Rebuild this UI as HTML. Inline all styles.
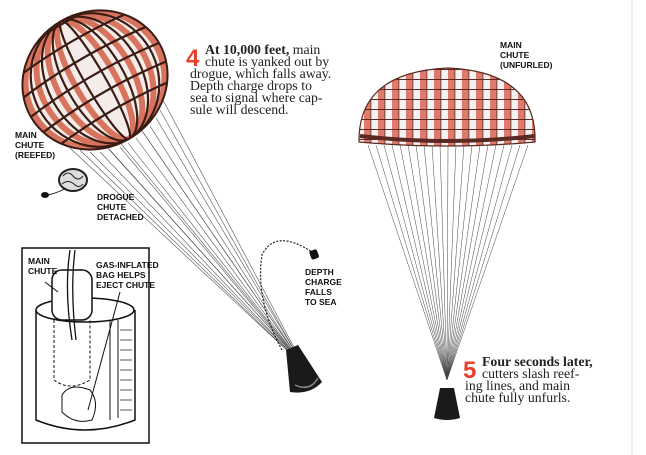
<!DOCTYPE html>
<html><head><meta charset="utf-8"><style>
html,body{margin:0;padding:0;background:#fff;}
svg{display:block}
.s{font-family:"Liberation Serif",serif;font-size:13.8px;fill:#222}
.l{font-family:"Liberation Sans",sans-serif;font-size:8.5px;font-weight:bold;fill:#111}
</style></head><body>
<svg width="646" height="455" viewBox="0 0 646 455">
<defs>
<pattern id="ck" width="14" height="10" patternUnits="userSpaceOnUse">
<rect width="14" height="10" fill="#f2f2f2"/>
<rect width="7" height="10" fill="#e07a6c"/>
<rect y="9" width="14" height="1" fill="#5a2a22"/>
<rect x="6.5" width="0.8" height="10" fill="#5a2a22"/>
</pattern>
<clipPath id="cc"><ellipse cx="95" cy="80" rx="74" ry="68" transform="rotate(-30 95 80)"/></clipPath>
</defs>
<line x1="632" y1="0" x2="632" y2="455" stroke="#f3ece8" stroke-width="2"/>
<!-- reefed chute lines -->
<g stroke="#555" stroke-width="0.6">
<line x1="70" y1="148" x2="292" y2="355"/><line x1="80" y1="150" x2="292" y2="355"/>
<line x1="90" y1="152" x2="293" y2="355"/><line x1="100" y1="152" x2="293" y2="355"/>
<line x1="110" y1="150" x2="294" y2="355"/><line x1="120" y1="147" x2="294" y2="355"/>
<line x1="128" y1="143" x2="295" y2="355"/><line x1="136" y1="138" x2="295" y2="355"/>
<line x1="143" y1="132" x2="296" y2="355"/><line x1="150" y1="126" x2="296" y2="355"/>
<line x1="156" y1="118" x2="297" y2="355"/><line x1="160" y1="110" x2="297" y2="355"/>
<line x1="163" y1="100" x2="298" y2="355"/><line x1="118" y1="140" x2="295" y2="355"/>
<line x1="105" y1="145" x2="294" y2="355"/><line x1="140" y1="128" x2="296" y2="355"/>
</g>
<g clip-path="url(#cc)">
<ellipse cx="95" cy="80" rx="74" ry="68" transform="rotate(-30 95 80)" fill="#f4ece8"/>
<g transform="rotate(-30 95 80)" fill="none">
<g stroke="#d8735d" stroke-width="6">
<ellipse cx="95" cy="80" rx="70" ry="68"/><ellipse cx="95" cy="80" rx="55" ry="68"/><ellipse cx="95" cy="80" rx="38" ry="68"/><ellipse cx="95" cy="80" rx="20" ry="68"/>
</g>
<g stroke="#3a1c14" stroke-width="2.2">
<ellipse cx="95" cy="80" rx="63" ry="68"/><ellipse cx="95" cy="80" rx="47" ry="68"/><ellipse cx="95" cy="80" rx="29" ry="68"/><ellipse cx="95" cy="80" rx="10" ry="68"/>
<path d="M20,40 Q95,30 170,40 M20,60 Q95,50 170,60 M20,80 Q95,70 170,80 M20,100 Q95,90 170,100 M20,120 Q95,110 170,120 M20,20 Q95,10 170,20"/>
</g>
</g>
</g>
<ellipse cx="95" cy="80" rx="74" ry="68" transform="rotate(-30 95 80)" fill="none" stroke="#3a1c14" stroke-width="2"/>
<!-- capsule left -->
<path d="M286,350 L298,345 L322,382 Q310,395 290,392 Z" fill="#1a1a1a"/>
<path d="M295,385 Q310,392 318,378" stroke="#888" fill="none" stroke-width="1.5"/>
<!-- depth charge -->
<path d="M282,350 Q255,300 262,255 Q275,228 312,252" fill="none" stroke="#222" stroke-width="1.2" stroke-dasharray="2,1.5"/>
<rect x="310" y="250" width="8" height="9" rx="2" fill="#111" transform="rotate(-20 314 254)"/>
<!-- text 4 -->
<text x="186" y="66" font-family="Liberation Sans,sans-serif" font-size="24" font-weight="bold" fill="#e8402a">4</text>
<text class="s" x="205" y="54"><tspan font-weight="bold">At 10,000 feet,</tspan> main</text>
<text class="s" x="205" y="66">chute is yanked out by</text>
<text class="s" x="190" y="78">drogue, which falls away.</text>
<text class="s" x="190" y="90">Depth charge drops to</text>
<text class="s" x="190" y="102">sea to signal where cap-</text>
<text class="s" x="190" y="114">sule will descend.</text>
<text class="l" x="15" y="138">MAIN</text><text class="l" x="15" y="148">CHUTE</text><text class="l" x="15" y="158">(REEFED)</text>
<!-- drogue -->
<ellipse cx="73" cy="180" rx="14" ry="11" fill="#ddd" stroke="#222" stroke-width="2"/>
<path d="M63,176 q5,-6 10,0 q5,6 10,0 M62,184 q6,-5 12,0 q5,5 9,0" stroke="#222" fill="none"/>
<path d="M48,195 Q60,192 66,188" stroke="#222" fill="none"/>
<ellipse cx="45" cy="195" rx="4" ry="3" fill="#111"/>
<text class="l" x="97" y="200">DROGUE</text><text class="l" x="97" y="210">CHUTE</text><text class="l" x="97" y="220">DETACHED</text>
<!-- inset -->
<rect x="22" y="248" width="127" height="195" fill="#fff" stroke="#111" stroke-width="1.5"/>
<path d="M36,310 L36,420 Q85,440 135,420 L135,310" fill="none" stroke="#111" stroke-width="1.5"/>
<ellipse cx="85" cy="310" rx="49" ry="12" fill="#fff" stroke="#111" stroke-width="1.5"/>
<path d="M54,320 L54,380 Q70,392 90,380 L90,320" fill="none" stroke="#111" stroke-dasharray="3,2"/>
<rect x="52" y="270" width="40" height="50" rx="10" fill="#fff" stroke="#111" stroke-width="1.5"/>
<path d="M70,250 Q64,290 72,340 M75,250 Q70,290 76,340" stroke="#111" fill="none" stroke-width="1.3"/>
<path d="M110,320 L110,420 M118,320 L118,418" stroke="#111"/>
<g stroke="#333" stroke-width="0.8">
<line x1="120" y1="330" x2="132" y2="330"/><line x1="120" y1="340" x2="132" y2="340"/><line x1="120" y1="350" x2="132" y2="350"/><line x1="120" y1="360" x2="132" y2="360"/><line x1="120" y1="370" x2="132" y2="370"/><line x1="120" y1="380" x2="132" y2="380"/><line x1="120" y1="390" x2="132" y2="390"/><line x1="120" y1="400" x2="132" y2="400"/><line x1="120" y1="410" x2="132" y2="410"/>
</g>
<path d="M62,395 Q70,382 90,390 Q100,402 92,420 Q75,425 62,412 Z" fill="#fff" stroke="#111"/>
<line x1="88" y1="410" x2="120" y2="292" stroke="#111"/>
<line x1="45" y1="282" x2="58" y2="292" stroke="#111"/>
<text class="l" x="28" y="264">MAIN</text><text class="l" x="28" y="274">CHUTE</text>
<text class="l" x="96" y="268">GAS-INFLATED</text><text class="l" x="96" y="278">BAG HELPS</text><text class="l" x="96" y="288">EJECT CHUTE</text>
<text class="l" x="305" y="275">DEPTH</text><text class="l" x="305" y="285">CHARGE</text><text class="l" x="305" y="295">FALLS</text><text class="l" x="305" y="305">TO SEA</text>
<!-- unfurled chute lines -->
<g stroke="#444" stroke-width="0.5">
<line x1="368" y1="145" x2="447" y2="380"/><line x1="376" y1="145" x2="447" y2="380"/><line x1="384" y1="145" x2="447" y2="380"/><line x1="392" y1="145" x2="447" y2="380"/><line x1="400" y1="145" x2="447" y2="380"/><line x1="408" y1="145" x2="447" y2="380"/><line x1="416" y1="145" x2="447" y2="380"/><line x1="424" y1="145" x2="447" y2="380"/><line x1="432" y1="145" x2="447" y2="380"/><line x1="440" y1="145" x2="447" y2="380"/><line x1="448" y1="145" x2="447" y2="380"/><line x1="456" y1="145" x2="447" y2="380"/><line x1="464" y1="145" x2="447" y2="380"/><line x1="472" y1="145" x2="447" y2="380"/><line x1="480" y1="145" x2="447" y2="380"/><line x1="488" y1="145" x2="447" y2="380"/><line x1="496" y1="145" x2="447" y2="380"/><line x1="504" y1="145" x2="447" y2="380"/><line x1="512" y1="145" x2="447" y2="380"/><line x1="520" y1="145" x2="447" y2="380"/><line x1="528" y1="145" x2="447" y2="380"/>
</g>
<path d="M359,142 Q358,72 448,68 Q537,72 535,142 Q448,150 359,142 Z" fill="url(#ck)" stroke="#5a2a22" stroke-width="1.2"/>
<path d="M360,136 Q448,146 535,136" stroke="#5a2a22" stroke-width="4" fill="none"/>
<path d="M440,388 L454,388 L460,418 Q447,422 434,418 Z" fill="#1a1a1a"/>
<text class="l" x="500" y="48">MAIN</text><text class="l" x="500" y="58">CHUTE</text><text class="l" x="500" y="68">(UNFURLED)</text>
<text x="463" y="378" font-family="Liberation Sans,sans-serif" font-size="24" font-weight="bold" fill="#e8402a">5</text>
<text class="s" x="482" y="366"><tspan font-weight="bold">Four seconds later,</tspan></text>
<text class="s" x="482" y="378">cutters slash reef-</text>
<text class="s" x="465" y="390">ing lines, and main</text>
<text class="s" x="465" y="402">chute fully unfurls.</text>
</svg>
</body></html>
